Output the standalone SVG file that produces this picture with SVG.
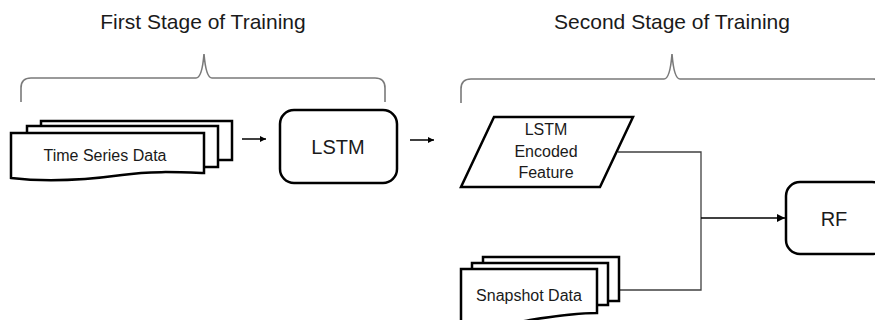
<svg xmlns="http://www.w3.org/2000/svg" width="875" height="320" viewBox="0 0 875 320">
<defs>
<style>
.t{font-family:"Liberation Sans",Arial,sans-serif;fill:#1a1a1a;text-anchor:middle}
.title{font-size:21px}
.shape{fill:#fff;stroke:#000;stroke-width:2.5;stroke-linejoin:miter}
.brace{fill:none;stroke:#7a7a7a;stroke-width:1.6}
.conn{fill:none;stroke:#404040;stroke-width:1.3}
.arr{fill:none;stroke:#000;stroke-width:1.5}
</style>
<marker id="ah" viewBox="0 0 10 10" refX="10" refY="5" markerWidth="6" markerHeight="6" markerUnits="userSpaceOnUse" orient="auto">
<path d="M0,0 L10,5 L0,10 Z" fill="#000"/>
</marker>
<marker id="ah2" viewBox="0 0 10 10" refX="10" refY="5" markerWidth="9" markerHeight="8" markerUnits="userSpaceOnUse" orient="auto">
<path d="M0,0 L10,5 L0,10 Z" fill="#000"/>
</marker>
</defs>

<g id="titles">
<text class="t title" x="203" y="29">First Stage of Training</text>
<text class="t title" x="672" y="29">Second Stage of Training</text>
</g>

<g id="braces">
<path class="brace" d="M21,102 V88 Q21,78 31,78 H196 Q202,78 204,54 Q206,78 212,78 H375 Q385,78 385,88 V102"/>
<path class="brace" d="M461,103 V89 Q461,79 471,79 H664 Q670,79 672,54 Q674,79 680,79 H873 Q883,79 883,89 V103"/>
</g>

<g id="connectors">
<line class="arr" x1="242" y1="139" x2="266" y2="139" marker-end="url(#ah)"/>
<line class="arr" x1="410" y1="140" x2="434" y2="140" marker-end="url(#ah)"/>
<polyline class="conn" points="618,152 701,152 701,290 619,290"/>
<line class="arr" x1="701" y1="218" x2="785" y2="218" marker-end="url(#ah2)"/>
</g>

<g id="time-series-data">
<rect class="shape" x="41" y="121" width="191" height="39"/>
<rect class="shape" x="27" y="126" width="191" height="41"/>
<path class="shape" d="M11,133 H204 V173 C175,172 150,171 122,175 C85,180 45,182 11,178 Z"/>
<text class="t" x="105" y="161" font-size="16">Time Series Data</text>
</g>

<g id="lstm">
<rect class="shape" x="280" y="110" width="117" height="73" rx="14" ry="14"/>
<text class="t" x="338" y="154" font-size="20">LSTM</text>
</g>

<g id="lstm-encoded-feature">
<path class="shape" d="M494,117 H633 L600,187 H461 Z"/>
<text class="t" x="546" y="135" font-size="16">LSTM</text>
<text class="t" x="546" y="156.5" font-size="16">Encoded</text>
<text class="t" x="546" y="178" font-size="16">Feature</text>
</g>

<g id="snapshot-data">
<rect class="shape" x="483" y="257" width="136" height="44"/>
<rect class="shape" x="472" y="263" width="136" height="42"/>
<path class="shape" d="M461,269 H597 V313 C575,313 555,316 530,320 C505,325 480,327 461,325 Z"/>
<text class="t" x="529" y="301" font-size="16">Snapshot Data</text>
</g>

<g id="rf">
<rect class="shape" x="786" y="182" width="100" height="72" rx="14" ry="14"/>
<text class="t" x="834" y="226" font-size="20">RF</text>
</g>
</svg>
